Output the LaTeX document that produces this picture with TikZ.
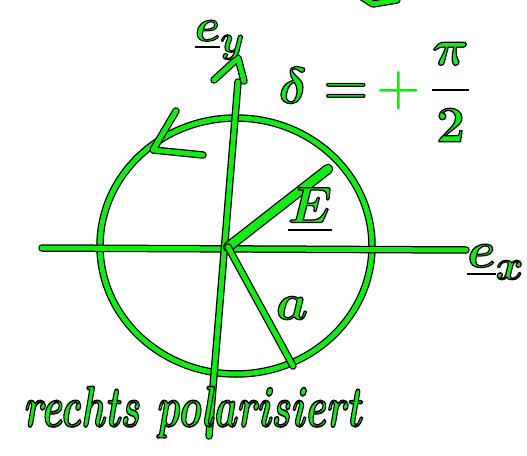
\documentclass[tikz,border=0pt]{standalone}
\usepackage{tikz}
\usepackage{amsmath}
\usetikzlibrary{calc}
\definecolor{penGreen}{RGB}{20,235,20}
\tikzset{
  pen/.style={draw=penGreen,line width=5pt,line cap=round,line join=round,
              preaction={draw=black,line width=7.5pt,line cap=round,line join=round}},
  fatpen/.style={pen,line width=8pt,preaction={draw=black,line width=10.5pt,line cap=round}},
  ink/.style={inner sep=0pt,text=penGreen},
  bigink/.style={ink,font=\Huge\boldmath,scale=2.05},
  textink/.style={ink,font=\fontsize{40}{44}\selectfont\bfseries\itshape}
}
\newcommand{\inked}[2][0.6]{\special{pdf:literal direct 2 Tr #1 w 0 0 0 RG}#2\special{pdf:literal direct 0 Tr}}

\begin{document}
\begin{tikzpicture}[x=1pt,y=-1pt]
  \useasboundingbox (0,0) rectangle (527,455);
  \coordinate (O) at (228,247);
  \coordinate (ytip) at (238,58);
  \coordinate (ybot) at (209,436);
  \coordinate (xleft) at (42,248);
  \coordinate (xend) at (466,250);
  \coordinate (Etip) at (328,169);
  \coordinate (aend) at (293,366);
  \coordinate (rottip) at (153,150);

  % circle of the field vector
  \draw[pen] (236,246) ellipse [x radius=136, y radius=128];
  \draw[pen] (362,-3) -- (373,4) -- (397,0);

  % axes
  \draw[pen] (xleft) -- (xend);
  \draw[pen] (ybot) -- (238,82);
  \draw[pen] ($(ytip)+(-24,22)$) -- (ytip) -- ($(ytip)+(6,23)$);

  \draw[fatpen] (O) -- (Etip);
  \draw[pen] (O) -- (aend);
  \draw[pen] (176,111) -- (rottip) -- (203,155);

  \node[bigink,scale=0.9] (ey) at (220,40) {\inked{$\underline{e}_y$}};
  \node[bigink] (ex) at (496,262) {\inked{$\underline{e}_x$}};
  \node[bigink] (E) at (310,210) {\inked{$\underline{E}$}};
  \node[bigink] (a) at (292,308) {\inked{$a$}};
  \node[bigink] (delta) at (375,92)
      {\inked{$\delta =$}\,\textcolor{penGreen}{$+$}\,\inked{$\displaystyle\frac{\pi}{2}$}};
  \node[textink,yscale=1.45] (pol) at (192,412) {\inked[1.1]{rechts polarisiert}};
\end{tikzpicture}
\end{document}
